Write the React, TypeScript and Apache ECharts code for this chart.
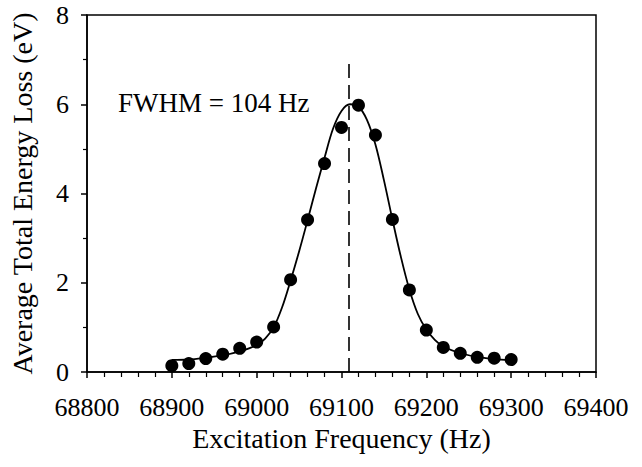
import React, { useEffect, useRef } from "react";
import * as echarts from "echarts";

const xTicks = [68800, 68900, 69000, 69100, 69200, 69300, 69400];
const yTicks = [0, 2, 4, 6, 8];

const measuredFreq = [68900, 68920, 68940, 68960, 68980, 69000, 69020, 69040, 69060, 69080, 69100, 69120, 69140, 69160, 69180, 69200, 69220, 69240, 69260, 69280, 69300];
const measuredLoss = [0.14, 0.19, 0.30, 0.40, 0.53, 0.67, 1.01, 2.07, 3.41, 4.67, 5.48, 5.98, 5.31, 3.42, 1.84, 0.94, 0.55, 0.42, 0.33, 0.31, 0.28];

const fitFreq = [68900, 68920, 68940, 68960, 68980, 69000, 69010, 69020, 69030, 69040, 69050, 69060, 69070, 69080, 69090, 69100, 69110, 69120, 69130, 69140, 69150, 69160, 69170, 69180, 69190, 69200, 69210, 69220, 69240, 69260, 69280, 69300];
const fitLoss = [0.27, 0.28, 0.32, 0.37, 0.46, 0.60, 0.75, 1.00, 1.45, 2.05, 2.70, 3.40, 4.12, 4.80, 5.45, 5.85, 6.00, 5.95, 5.65, 5.10, 4.30, 3.42, 2.58, 1.85, 1.30, 0.95, 0.72, 0.57, 0.42, 0.34, 0.29, 0.27];

const centerFreq = 69109;
const centerLineRange = [0, 7];
const annotation = "FWHM = 104 Hz";

const FONT = '"Liberation Serif", "Times New Roman", serif';

export default function App() {
  const ref = useRef<HTMLDivElement>(null);
  useEffect(() => {
    if (!ref.current) return;
    const chart = echarts.init(ref.current, undefined, { renderer: "svg" });
    chart.setOption({
      animation: false,
      backgroundColor: "#fff",
      grid: {
        left: 87,
        top: 15,
        width: 509,
        height: 357,
        containLabel: false,
        outerBoundsMode: "none",
        show: true,
        borderColor: "#000",
        borderWidth: 1.5,
        backgroundColor: "transparent",
      },
      xAxis: {
        type: "value",
        min: xTicks[0],
        max: xTicks[xTicks.length - 1],
        interval: 100,
        name: "Excitation Frequency (Hz)",
        nameLocation: "middle",
        nameGap: 51,
        nameTextStyle: { fontFamily: FONT, fontSize: 28, color: "#000" },
        axisLine: { show: true, onZero: false, lineStyle: { color: "#000", width: 1.5 } },
        axisTick: { show: true, inside: false, length: 6, lineStyle: { color: "#000", width: 1.5 } },
        minorTick: { show: true, splitNumber: 5, length: 5, lineStyle: { color: "#000", width: 1.2 } },
        splitLine: { show: false },
        axisLabel: {
          fontFamily: FONT,
          fontSize: 26,
          color: "#000",
          margin: 22,
          formatter: (v: number) => String(v),
        },
      },
      yAxis: {
        type: "value",
        min: yTicks[0],
        max: yTicks[yTicks.length - 1],
        interval: 2,
        name: "Average Total Energy Loss (eV)",
        nameLocation: "middle",
        nameGap: 51,
        nameTextStyle: { fontFamily: FONT, fontSize: 28, color: "#000" },
        axisLine: { show: true, onZero: false, lineStyle: { color: "#000", width: 1.5 } },
        axisTick: { show: true, inside: false, length: 6, lineStyle: { color: "#000", width: 1.5 } },
        minorTick: { show: true, splitNumber: 2, length: 4, lineStyle: { color: "#000", width: 1.2 } },
        splitLine: { show: false },
        axisLabel: { fontFamily: FONT, fontSize: 26, color: "#000", margin: 18 },
      },
      graphic: [
        {
          type: "text",
          left: 118,
          top: 89,
          style: { text: annotation, font: `27px ${FONT}`, fill: "#000" },
        },
      ],
      series: [
        {
          type: "line",
          data: fitFreq.map((f, i) => [f, fitLoss[i]]),
          smooth: 0.35,
          showSymbol: false,
          symbol: "none",
          lineStyle: { color: "#000", width: 1.8, opacity: 1 },
          z: 2,
          markLine: {
            silent: true,
            symbol: "none",
            label: { show: false },
            emphasis: { disabled: true },
            lineStyle: { color: "#000", width: 1.6, type: [14, 7], opacity: 1 },
            data: [[{ coord: [centerFreq, centerLineRange[0]] }, { coord: [centerFreq, centerLineRange[1]] }]],
          },
        },
        {
          type: "scatter",
          data: measuredFreq.map((f, i) => [f, measuredLoss[i]]),
          symbol: "circle",
          symbolSize: 13,
          itemStyle: { color: "#000", opacity: 1 },
          z: 3,
        },
      ],
    });
    return () => chart.dispose();
  }, []);
  return (
    <div
      ref={ref}
      style={{ position: "fixed", left: 0, top: 0, width: 642, height: 467 }}
    />
  );
}
